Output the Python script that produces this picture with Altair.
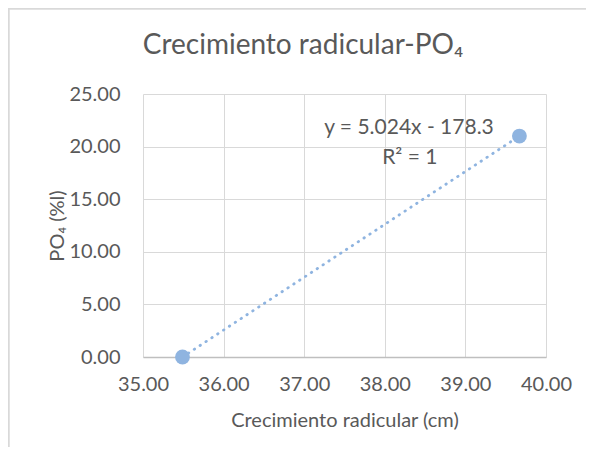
import altair as alt
import pandas as pd

# Data
crecimiento = [35.49, 39.67]   # Crecimiento radicular (cm)
po4 = [0.0, 21.0]              # PO4 (%l)
x_ticks = [35, 36, 37, 38, 39, 40]
y_ticks = [0, 5, 10, 15, 20, 25]
eq_text = ["y = 5.024x - 178.3", "R² = 1"]
eq_x = [38.30, 38.31]
eq_y = [21.75, 18.9]
title_text = ["Crecimiento radicular-PO₄"]

df = pd.DataFrame({"x": crecimiento, "y": po4})
eq_df = pd.DataFrame({"t": eq_text, "x": eq_x, "y": eq_y})
title_df = pd.DataFrame({"t": title_text})

FONT = "Lato"
TXT = "#595959"
W, H = 403, 263
PL, PT, PR, PB = 135, 86, 40, 90

xs = alt.Scale(domain=[35, 40], nice=False, zero=False)
ys = alt.Scale(domain=[0, 25], nice=False)

xenc = alt.X("x:Q", scale=xs, axis=alt.Axis(
    values=x_ticks, format=".2f", title="Crecimiento radicular (cm)",
    grid=True, gridColor="#d9d9d9", domainColor="#bfbfbf", domainWidth=1.3,
    ticks=False, labelPadding=17, labelFlush=False, labelFont=FONT, labelFontSize=20,
    labelColor=TXT,
    titleFont=FONT, titleFontSize=20, titleColor=TXT, titleFontWeight="normal",
    titleY=63, titleBaseline="middle"))
yenc = alt.Y("y:Q", scale=ys, axis=alt.Axis(
    values=y_ticks, format=".2f", title="PO₄ (%l)",
    grid=True, gridColor="#d9d9d9", domain=False,
    ticks=False, labelPadding=23, labelFont=FONT, labelFontSize=20, labelColor=TXT,
    titleFont=FONT, titleFontSize=20, titleColor=TXT, titleFontWeight="normal",
    titleX=-86, titleY=H / 2, titleAngle=-90, titleAlign="center", titleBaseline="middle"))

base = alt.Chart(df)

trend = base.transform_regression("x", "y").mark_line(
    color="#8fb4e0", strokeWidth=2.8, strokeDash=[0.5, 6.5], strokeCap="round"
).encode(x=alt.X("x:Q", scale=xs), y=alt.Y("y:Q", scale=ys))

pts = base.mark_point(filled=True, size=220, color="#8fb4e0", opacity=1).encode(
    x=xenc, y=yenc)

eq = alt.Chart(eq_df).mark_text(font=FONT, fontSize=21, color=TXT, align="center",
                                baseline="middle").encode(
    x=alt.X("x:Q", scale=xs), y=alt.Y("y:Q", scale=ys), text="t:N")

title = alt.Chart(title_df).mark_text(font=FONT, fontSize=28, color=TXT, align="center",
                                      baseline="alphabetic").encode(
    x=alt.value(303 - 143), y=alt.value(54 - 94), text="t:N")

frame_top = alt.Chart(df).mark_rule(color="#d9d9d9", strokeWidth=1.5).encode(
    x=alt.value(-PL + 0.5), x2=alt.value(W + PR), y=alt.value(-PT + 0.75))
frame_left = alt.Chart(df).mark_rule(color="#d9d9d9", strokeWidth=1.5).encode(
    x=alt.value(-PL + 0.75), y=alt.value(-PT), y2=alt.value(H + PB))

chart = alt.layer(trend, pts, eq, title, frame_top, frame_left).properties(
    width=W, height=H,
    autosize=alt.AutoSizeParams(type="none"),
    padding={"left": PL, "top": PT, "right": PR, "bottom": PB},
).configure_view(stroke=None)

chart.save("out.html", embed_options={"renderer": "svg", "actions": False})
